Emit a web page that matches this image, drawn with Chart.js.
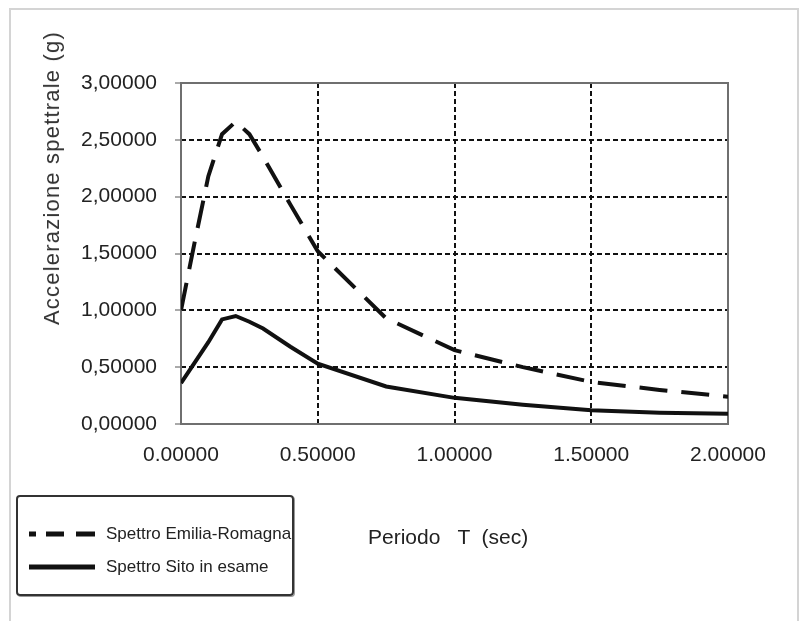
<!DOCTYPE html>
<html>
<head>
<meta charset="utf-8">
<script src="https://cdn.jsdelivr.net/npm/chart.js@4"></script>
<style>
  body { margin: 0; background: #fff; font-family: "Liberation Sans", Arial, sans-serif; }
  #wrap { position: relative; width: 803px; height: 621px; overflow: hidden; }
  #spectrumChart { position: absolute; left: 0; top: 0; }
  .frame { position: absolute; left: 9px; top: 8px; width: 786px; height: 612px; border: 2px solid #d4d4d4; border-bottom: none; }
  .ytitle { position: absolute; left: 52px; top: 178px; transform: translate(-50%, -50%) rotate(-90deg);
    white-space: nowrap; font-size: 22px; letter-spacing: 1.2px; color: #333; }
  .xtitle { position: absolute; left: 368px; top: 537px; transform: translateY(-50%);
    white-space: pre; font-size: 21px; color: #222; }
  #legend { position: absolute; left: 16px; top: 495px; width: 274px; height: 97px;
    border: 2px solid #333; border-radius: 4px; box-shadow: 1px 1px 0 #999; }
  .item { position: absolute; left: 0; height: 20px; white-space: nowrap; font-size: 17px; color: #222; }
  .item svg { position: absolute; left: 9px; top: 4px; }
  .item span { position: absolute; left: 88px; top: 0; line-height: 20px; }
</style>
</head>
<body>
<div id="wrap">
  <div class="frame"></div>
  <canvas id="spectrumChart" width="803" height="621"></canvas>
  <div class="ytitle">Accelerazione spettrale (g)</div>
  <div class="xtitle">Periodo   T  (sec)</div>
  <div id="legend"></div>
</div>
<script>
// periodo T (sec)
const periods = [0, 0.05, 0.1, 0.15, 0.2, 0.25, 0.3, 0.4, 0.5, 0.75, 1.0, 1.25, 1.5, 1.75, 2.0]
// accelerazione spettrale (g)
const spettroEmilia = [1.0, 1.6, 2.18, 2.55, 2.66, 2.55, 2.35, 1.93, 1.52, 0.93, 0.65, 0.5, 0.37, 0.3, 0.24]
const spettroSito = [0.36, 0.54, 0.72, 0.92, 0.95, 0.9, 0.84, 0.68, 0.53, 0.33, 0.23, 0.17, 0.12, 0.1, 0.09]

const seriesNames = ["Spettro Emilia-Romagna", "Spettro Sito in esame"]
const xTicks = [0, 0.5, 1.0, 1.5, 2.0]
const yTicks = [0, 0.5, 1.0, 1.5, 2.0, 2.5, 3.0]

const toPoints = (values) => values.map((v, i) => ({ x: periods[i], y: v }))

const plotFrame = {
  id: "plotFrame",
  beforeDatasetsDraw(chart) {
    const { ctx, chartArea } = chart
    ctx.save()
    ctx.strokeStyle = "#6f6f6f"
    ctx.lineWidth = 2
    ctx.setLineDash([])
    ctx.strokeRect(chartArea.left, chartArea.top, chartArea.right - chartArea.left, chartArea.bottom - chartArea.top)
    ctx.restore()
  }
}

const gridColor = (min, max) => (c) => {
  const v = c.tick ? c.tick.value : null
  return (v === min || v === max) ? "rgba(0,0,0,0)" : "#111"
}

const chart = new Chart(document.getElementById("spectrumChart"), {
  type: "line",
  data: {
    datasets: [
      {
        label: seriesNames[0],
        data: toPoints(spettroEmilia),
        borderColor: "#111",
        borderWidth: 4,
        borderDash: [28, 14],
        borderCapStyle: "butt",
        pointRadius: 0,
        tension: 0
      },
      {
        label: seriesNames[1],
        data: toPoints(spettroSito),
        borderColor: "#111",
        borderWidth: 4,
        pointRadius: 0,
        tension: 0
      }
    ]
  },
  options: {
    responsive: false,
    animation: false,
    devicePixelRatio: 1,
    layout: { padding: { left: 0, top: 83, right: 75, bottom: 0 } },
    plugins: { legend: { display: false }, tooltip: { enabled: false } },
    scales: {
      x: {
        type: "linear",
        min: 0,
        max: 2,
        afterBuildTicks: (scale) => { scale.ticks = xTicks.map((v) => ({ value: v })) },
        afterFit: (scale) => { scale.height = 197 },
        border: { display: false, dash: [5, 3] },
        grid: { color: gridColor(0, 2), lineWidth: 2, drawTicks: false },
        ticks: {
          padding: 19,
          color: "#222",
          font: { family: "'Liberation Sans', Arial", size: 21 },
          maxRotation: 0,
          callback: (v) => Number(v).toFixed(5)
        }
      },
      y: {
        min: 0,
        max: 3,
        afterBuildTicks: (scale) => { scale.ticks = yTicks.map((v) => ({ value: v })) },
        afterFit: (scale) => { scale.width = 181 },
        border: { display: false, dash: [5, 3] },
        grid: { color: gridColor(0, 3), lineWidth: 2, tickLength: 6, tickColor: "#555", tickWidth: 1 },
        ticks: {
          padding: 18,
          color: "#222",
          font: { family: "'Liberation Sans', Arial", size: 21 },
          callback: (v) => Number(v).toFixed(5).replace(".", ",")
        }
      }
    }
  },
  plugins: [plotFrame]
})

// legend built from the datasets
const legend = document.getElementById("legend")
chart.data.datasets.forEach((ds, i) => {
  const item = document.createElement("div")
  item.className = "item"
  item.style.top = (i === 0 ? 27 : 60) + "px"
  const dash = ds.borderDash ? 'stroke-dasharray="7,10,18,12,19,20"' : ""
  item.innerHTML =
    '<svg width="70" height="12"><line x1="2" y1="6" x2="68" y2="6" stroke="#111" stroke-width="5" ' +
    dash + "/></svg><span>" + ds.label + "</span>"
  legend.appendChild(item)
})
</script>
</body>
</html>
